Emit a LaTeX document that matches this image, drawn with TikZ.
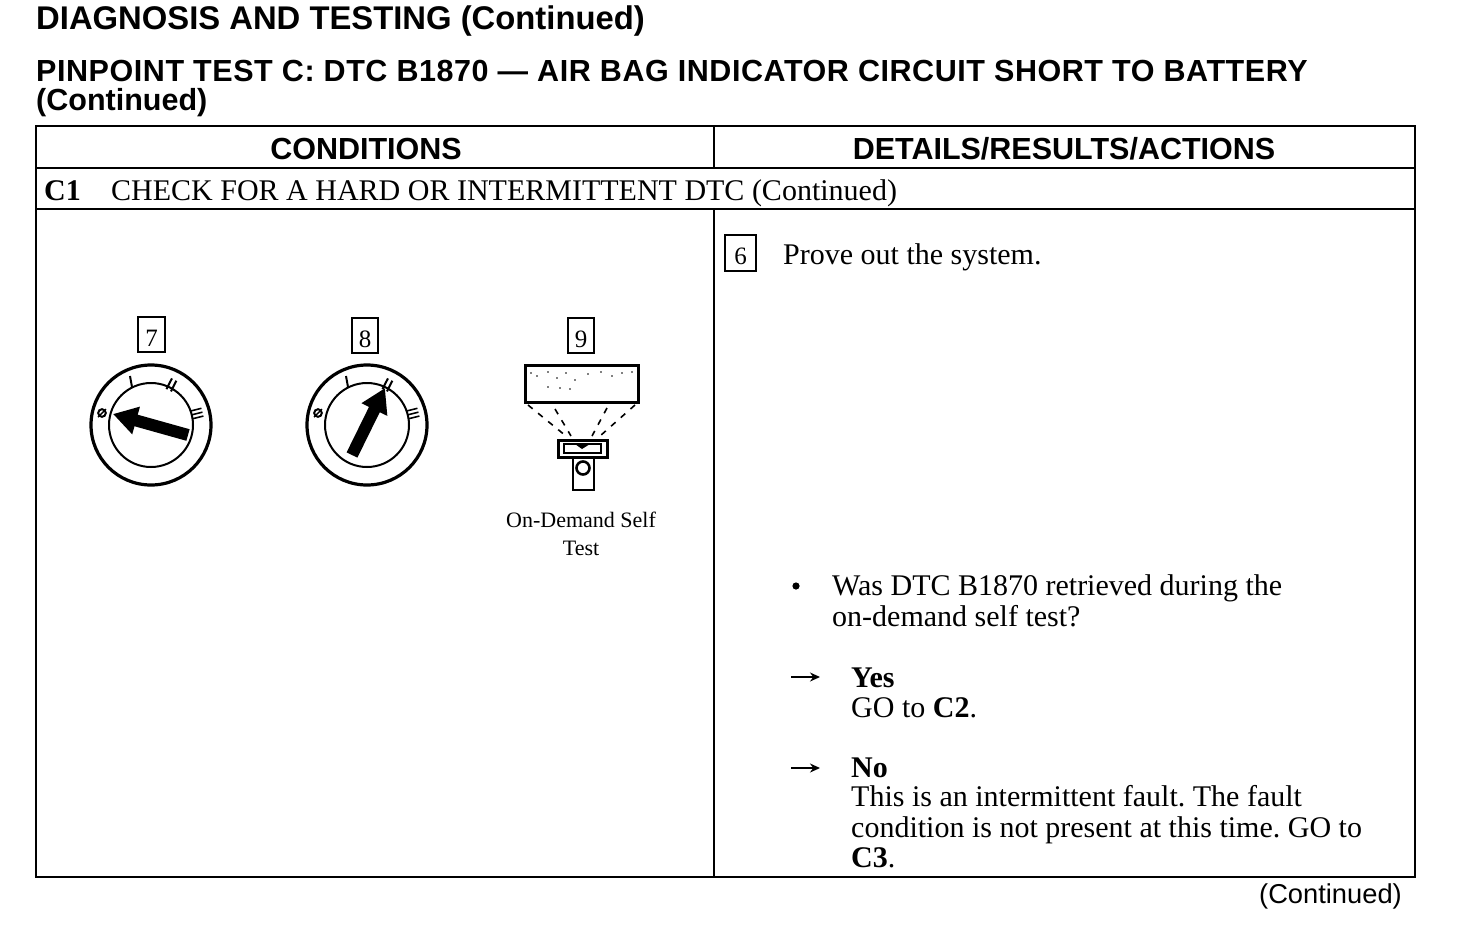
\documentclass[tikz,border=0pt]{standalone}
\usepackage{fontspec}
\setmainfont{Liberation Serif}
\setsansfont{Liberation Sans}
\usetikzlibrary{arrows.meta}
\newfontfamily\widesans[LetterSpace=1.85]{Liberation Sans}
\newcommand{\stepnum}[1]{\raisebox{-11.5pt}[0pt][0pt]{#1}}
\frenchspacing
\tikzset{
  body/.style={anchor=base west,inner sep=0pt,font=\fontsize{30}{31}\selectfont},
  bodyb/.style={body,font=\fontsize{30}{31}\selectfont\bfseries},
  head/.style={anchor=base west,inner sep=0pt,font=\sffamily\bfseries\fontsize{30.5}{31}\selectfont},
  colhead/.style={anchor=base,inner sep=0pt,font=\sffamily\bfseries\fontsize{30.5}{31}\selectfont},
  stepbox/.style={draw,line width=1.5pt,inner sep=0pt,font=\fontsize{25}{25}\selectfont},
  ring/.style={draw,circle,line width=3.2pt,minimum size=120pt,inner sep=0pt},
  hub/.style={draw,circle,line width=2pt,minimum size=84pt,inner sep=0pt},
  pointer/.style={line width=12pt,-{Triangle[length=24pt,width=27pt]}},
  answer/.style={line width=1.4pt,-{Stealth[length=10pt,width=9pt]}},
  rule/.style={line width=2pt},
}
\begin{document}
\begin{tikzpicture}[x=1pt,y=-1pt]
\useasboundingbox (0,0) rectangle (1472,938);
% headings
\node[head,font=\sffamily\bfseries\fontsize{32.8}{33}\selectfont] (title) at (36,29) {DIAGNOSIS AND TESTING (Continued)};
\node[head] (test) at (36,81) {\widesans PINPOINT TEST C: DTC B1870 — AIR BAG INDICATOR CIRCUIT SHORT TO BATTERY};
\node[head] (testb) at (36,110) {(Continued)};

% table
\draw[rule] (36,126) rectangle (1415,877);
\draw[rule] (36,168) -- (1415,168);
\draw[rule] (36,209) -- (1415,209);
\draw[rule] (714,126) -- (714,168);
\draw[rule] (714,209) -- (714,877);
\node[colhead] (cond) at (366,159) {CONDITIONS};
\node[colhead] (details) at (1064,159) {DETAILS/RESULTS/ACTIONS};
\node[bodyb] (c1) at (44,200) {C1};
\node[body] (c1text) at (111,200) {CHECK FOR A HARD OR INTERMITTENT DTC (Continued)};

% step numbers
\node[stepbox,minimum width=27pt,minimum height=35pt] (s7) at (151.5,334.5) {\stepnum{7}};
\node[stepbox,minimum width=26pt,minimum height=35pt] (s8) at (365,335.5) {\stepnum{8}};
\node[stepbox,minimum width=26pt,minimum height=35pt] (s9) at (581,335.5) {\stepnum{9}};
\node[stepbox,minimum width=31pt,minimum height=36pt] (s6) at (740.5,253) {\stepnum{6}};

% ignition dials
\foreach \cx/\nm in {151/seven,367/eight} {
  \node[ring] (ring\nm) at (\cx,425) {};
  \node[hub] (hub\nm) at (\cx,425) {};
  \draw[line width=2pt] (\cx-21,376) -- (\cx-19,387);
  \draw[line width=2pt,rotate around={-27:(\cx,425)}] (\cx-2.5,374) -- (\cx-2.5,386);
  \draw[line width=2pt,rotate around={-27:(\cx,425)}] (\cx+2.5,374) -- (\cx+2.5,386);
  \draw[line width=1.6pt,rotate around={-76:(\cx,425)}] (\cx-4,372) -- (\cx-4,383);
  \draw[line width=1.6pt,rotate around={-76:(\cx,425)}] (\cx,372) -- (\cx,383);
  \draw[line width=1.6pt,rotate around={-76:(\cx,425)}] (\cx+4,372) -- (\cx+4,383);
  \draw[line width=2pt] (\cx-49,413) circle (3.8pt);
  \draw[line width=1.4pt] (\cx-53,417) -- (\cx-45,409);
}
\coordinate (tail7) at (188,435);
\coordinate (tip7) at (113,414);
\draw[pointer] (tail7) -- (tip7);
\coordinate (tail8) at (352,455);
\coordinate (tip8) at (385,388);
\draw[pointer] (tail8) -- (tip8);

% self test display and buckle
\node[draw,line width=3pt,minimum width=113pt,minimum height=37pt,inner sep=0pt] (display) at (581.5,384) {};
\foreach \dx/\dy in {531/373,537/376,548/372,557/378,566/373,575/380,588/374,601/372,612/376,622/373,632/372,548/387,560/388,570/389} {
  \fill (\dx,\dy) circle (0.8pt);
}
\draw[line width=1.6pt,dashed,dash pattern=on 6pt off 7pt] (528,405) -- (566,436);
\draw[line width=1.6pt,dashed,dash pattern=on 6pt off 7pt] (555,409) -- (571,436);
\draw[line width=1.6pt,dashed,dash pattern=on 6pt off 7pt] (607,408) -- (592,436);
\draw[line width=1.6pt,dashed,dash pattern=on 6pt off 7pt] (635,405) -- (600,436);
\draw[line width=2.6pt] (573,457) -- (573,490) -- (594,490) -- (594,457);
\draw[line width=3pt] (558,440) rectangle (607,457);
\draw[line width=2.6pt] (564,444) rectangle (601,453);
\fill (575,444) -- (590,444) -- (582,449) -- cycle;
\draw[line width=2.6pt] (583,468) circle (6.5pt);
\node[anchor=base,inner sep=0pt,font=\fontsize{22}{22}\selectfont] (ondemand) at (581,527) {On-Demand Self};
\node[anchor=base,inner sep=0pt,font=\fontsize{22}{22}\selectfont] (ondemandb) at (581,555) {Test};

% right column
\node[body] (prove) at (783,264) {Prove out the system.};
\fill (796,586) circle (3.6pt);
\node[body] (was) at (832,595) {Was DTC B1870 retrieved during the};
\node[body] (wasb) at (832,626) {on-demand self test?};

\coordinate (yesa) at (791,677);
\coordinate (yesb) at (820,677);
\draw[answer] (yesa) -- (yesb);
\node[bodyb] (yes) at (851,687) {Yes};
\node[body] (goc2) at (851,717) {GO to \textbf{C2}.};

\coordinate (noa) at (791,768);
\coordinate (nob) at (820,768);
\draw[answer,line width=2pt] (noa) -- (nob);
\node[bodyb] (no) at (851,777) {No};
\node[body] (la) at (851,806) {This is an intermittent fault. The fault};
\node[body] (lb) at (851,837) {condition is not present at this time. GO to};
\node[body] (lc) at (851,867) {\textbf{C3}.};

\node[anchor=base east,inner sep=0pt,font=\sffamily\fontsize{27.3}{27}\selectfont] (cont) at (1402,903) {(Continued)};
\end{tikzpicture}
\end{document}
